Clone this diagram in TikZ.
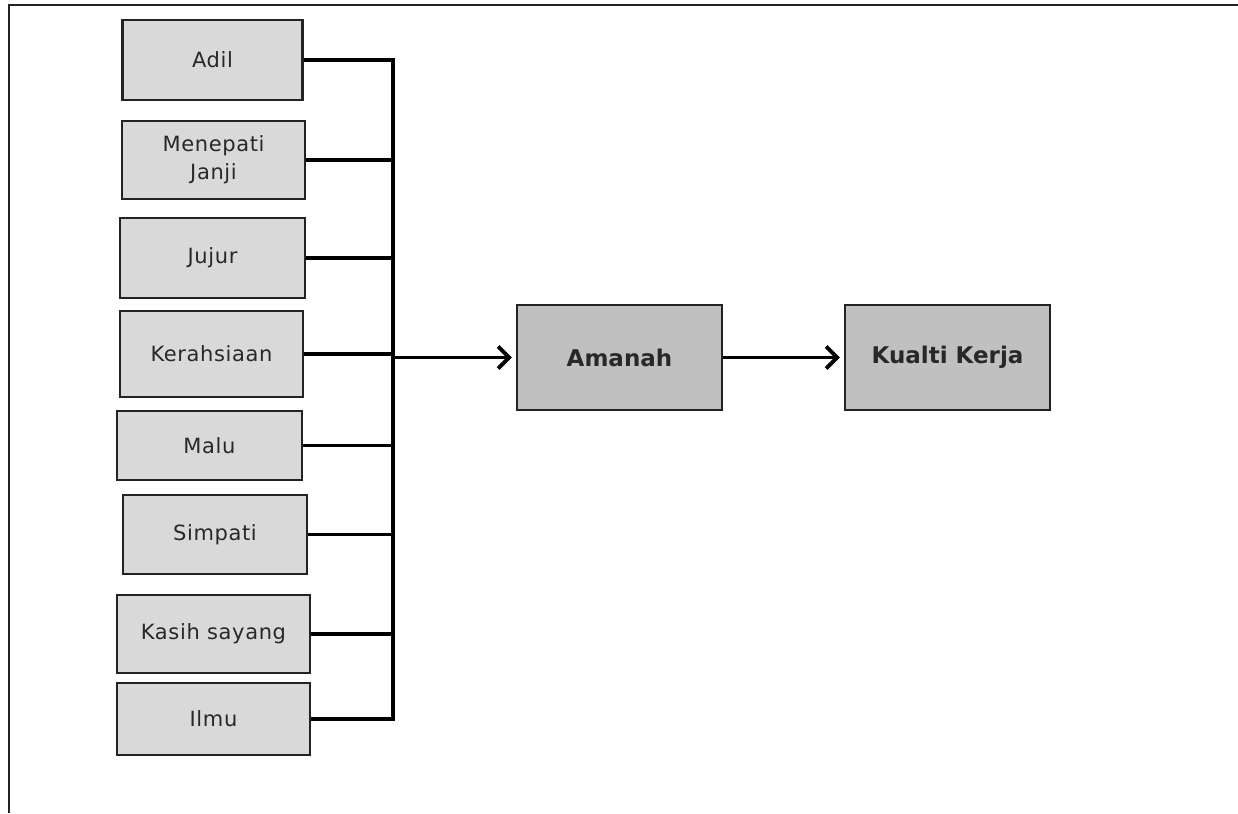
\documentclass[tikz,border=0pt]{standalone}
\usepackage{fontspec}
\setmainfont{DejaVu Sans}
\newfontfamily\smallfnt[LetterSpace=3]{DejaVu Sans}
\usetikzlibrary{arrows.meta}
\definecolor{smallfill}{RGB}{217,217,217}
\definecolor{bigfill}{RGB}{192,192,192}
\definecolor{edgecol}{RGB}{35,35,35}
\definecolor{txtcol}{RGB}{40,40,40}
\tikzset{
  smallbox/.style={draw=edgecol, line width=2.4pt, fill=smallfill, text=txtcol,
    font=\smallfnt\fontsize{21}{28}\selectfont, align=center, inner sep=0pt},
  bigbox/.style={draw=edgecol, line width=2.4pt, fill=bigfill, text=txtcol,
    font=\bfseries\fontsize{23}{28}\selectfont, align=center, inner sep=0pt,
    minimum width=205pt, minimum height=105pt},
  link/.style={line width=3.8pt, black},
  arrowlink/.style={line width=3.8pt, black, -{Straight Barb[length=11pt,width=22pt,line width=3.8pt]}, shorten >=4pt},
  frameline/.style={line width=2pt, edgecol}
}
\begin{document}
\begin{tikzpicture}[x=1pt,y=-1pt]
\useasboundingbox (0,0) rectangle (1238,813);
\draw[frameline] (9,813) -- (9,5) -- (1238,5);

\node[smallbox, minimum width=180pt, minimum height=80pt] (adil) at (212.5,60) {Adil};
\node[smallbox, minimum width=183pt, minimum height=78pt] (janji) at (213.5,160) {Menepati\\Janji};
\node[smallbox, minimum width=185pt, minimum height=80pt] (jujur) at (212.5,258) {Jujur};
\node[smallbox, minimum width=183pt, minimum height=86pt] (rahsia) at (211.5,354) {Kerahsiaan};
\node[smallbox, minimum width=185pt, minimum height=69pt] (malu) at (209.5,445.5) {Malu};
\node[smallbox, minimum width=184pt, minimum height=79pt] (simpati) at (215,534.5) {Simpati};
\node[smallbox, minimum width=193pt, minimum height=78pt] (kasih) at (213.5,634) {Kasih sayang};
\node[smallbox, minimum width=193pt, minimum height=72pt] (ilmu) at (213.5,719) {Ilmu};

\node[bigbox] (amanah) at (619.5,357.5) {Amanah};
\node[bigbox] (kualiti) at (947.5,357.5) {Kualti Kerja};

\coordinate (bustop) at (393,60);
\coordinate (busbot) at (393,719);
\coordinate (busmid) at (393,357.5);

\draw[link] (adil.east) -- (bustop) -- (busbot) -- (ilmu.east);
\foreach \n in {janji,jujur,rahsia,malu,simpati,kasih}
  \draw[link] (\n.east) -- (\n.east -| bustop);

\draw[arrowlink] (busmid) -- (amanah.west);
\draw[arrowlink] (amanah.east) -- (kualiti.west);
\end{tikzpicture}
\end{document}
